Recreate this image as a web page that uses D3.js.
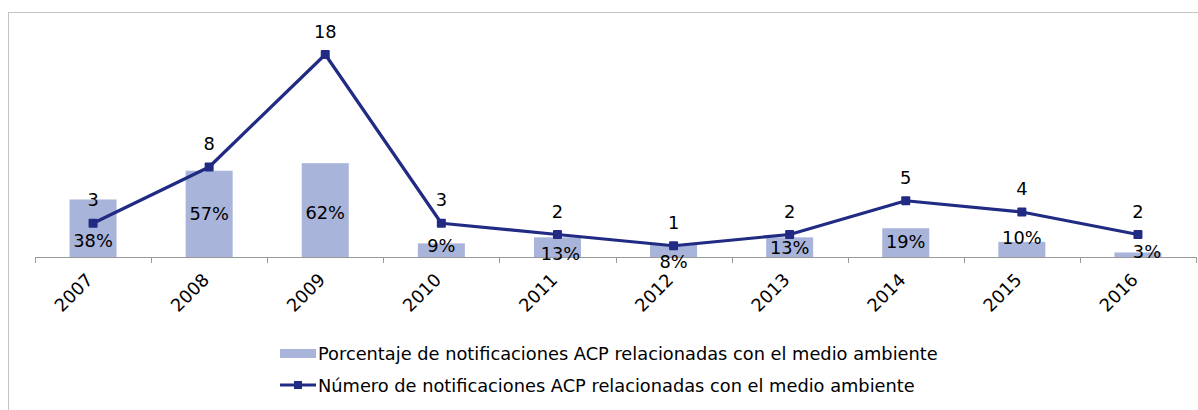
<!DOCTYPE html>
<html>
<head>
<meta charset="utf-8">
<script src="https://cdn.jsdelivr.net/npm/d3@7"></script>
<style>
  body { margin: 0; background: #fff; }
  text { font-family: "DejaVu Sans", Verdana, sans-serif; fill: #000; }
</style>
</head>
<body>
<script>
(function(){

// data
var years = ["2007","2008","2009","2010","2011","2012","2013","2014","2015","2016"];
var percentValues = [38, 57, 62, 9, 13, 8, 13, 19, 10, 3];
var countValues = [3, 8, 18, 3, 2, 1, 2, 5, 4, 2];
var legendLabels = [
    "Porcentaje de notificaciones ACP relacionadas con el medio ambiente",
    "Número de notificaciones ACP relacionadas con el medio ambiente"
];

var barColor = "#a9b4da",
    lineColor = "#212b83",
    fontSize = "17.8px";

var width = 1198,
    height = 410,
    axisLeft = 35,
    axisRight = 1196,
    baseY = 257;

var svg = d3.select("body")
    .append("svg")
    .attr("width", width)
    .attr("height", height);

//outer frame of the chart
svg.append("rect")
    .attr("x", 8.5)
    .attr("y", 12.5)
    .attr("width", 1300)
    .attr("height", 500)
    .style("fill", "none")
    .style("stroke", "#c4c4c4")
    .style("stroke-width", 1);

var x = d3.scaleBand()
    .domain(years)
    .range([axisLeft, axisRight])
    .padding(0);

var yCount = d3.scaleLinear()
    .domain([0, 20])
    .range([baseY, baseY - 225]);

var yPct = d3.scaleLinear()
    .domain([0, 150])
    .range([baseY, baseY - 227]);

var barW = x.bandwidth() * 0.405;

//bars
svg.selectAll(".bars")
    .data(percentValues)
    .enter()
    .append("rect")
    .attr("class", "bars")
    .attr("x", function(d, i){ return x(years[i]) + x.bandwidth() / 2 - barW / 2; })
    .attr("y", function(d){ return yPct(d); })
    .attr("width", barW)
    .attr("height", function(d){ return baseY - yPct(d); })
    .style("fill", barColor);

//category axis
var xAxis = d3.axisBottom(x)
    .tickSize(0)
    .tickFormat("");

var axis = svg.append("g")
    .attr("transform", "translate(0," + baseY + ")")
    .call(xAxis);
axis.select(".domain").attr("stroke", "#9a9a9a");

//tick marks on the band edges
var edges = years.map(function(d){ return x(d); }).concat([axisRight]);
svg.selectAll(".tickmark")
    .data(edges)
    .enter()
    .append("line")
    .attr("x1", function(d){ return Math.round(d) + 0.5; })
    .attr("x2", function(d){ return Math.round(d) + 0.5; })
    .attr("y1", baseY)
    .attr("y2", baseY + 6)
    .style("stroke", "#9a9a9a");

//year labels
svg.selectAll(".yearLabel")
    .data(years)
    .enter()
    .append("text")
    .attr("class", "yearLabel")
    .attr("transform", function(d){
        return "translate(" + (x(d) + x.bandwidth() / 2 + 1) + "," + (baseY + 24) + ") rotate(-45)";
    })
    .attr("text-anchor", "end")
    .style("font-size", fontSize)
    .text(function(d){ return d; });

//line
var line = d3.line()
    .x(function(d, i){ return x(years[i]) + x.bandwidth() / 2; })
    .y(function(d){ return yCount(d); });

svg.append("path")
    .datum(countValues)
    .attr("d", line)
    .style("fill", "none")
    .style("stroke", lineColor)
    .style("stroke-width", 3.2)
    .style("stroke-linejoin", "round");

svg.selectAll(".marker")
    .data(countValues)
    .enter()
    .append("rect")
    .attr("class", "marker")
    .attr("x", function(d, i){ return x(years[i]) + x.bandwidth() / 2 - 4.5; })
    .attr("y", function(d){ return yCount(d) - 4.5; })
    .attr("width", 9)
    .attr("height", 9)
    .attr("rx", 1)
    .style("fill", lineColor);

//count labels
svg.selectAll(".countLabel")
    .data(countValues)
    .enter()
    .append("text")
    .attr("class", "countLabel")
    .attr("x", function(d, i){ return x(years[i]) + x.bandwidth() / 2; })
    .attr("y", function(d){ return yCount(d) - 17; })
    .attr("text-anchor", "middle")
    .style("font-size", fontSize)
    .text(function(d){ return d; });

//percentage labels, nudged like the original to dodge the line
var pctDx = [0, 0, 0, 0, 3, 0, 0, 0, 0, 9];
var pctDy = [12, 0, 2, -5, 6, 11, 0, -1, -12, -3];
svg.selectAll(".pctLabel")
    .data(percentValues)
    .enter()
    .append("text")
    .attr("class", "pctLabel")
    .attr("x", function(d, i){ return x(years[i]) + x.bandwidth() / 2 + pctDx[i]; })
    .attr("y", function(d, i){ return (yPct(d) + baseY) / 2 + pctDy[i] + 6.5; })
    .attr("text-anchor", "middle")
    .style("font-size", fontSize)
    .text(function(d){ return d + "%"; });

//legend
var legend = svg.append("g")
    .attr("class", "legend");

legend.append("rect")
    .attr("x", 280)
    .attr("y", 349)
    .attr("width", 36)
    .attr("height", 9)
    .style("fill", barColor);

legend.append("line")
    .attr("x1", 280)
    .attr("x2", 316)
    .attr("y1", 385)
    .attr("y2", 385)
    .style("stroke", lineColor)
    .style("stroke-width", 3.2);

legend.append("rect")
    .attr("x", 294)
    .attr("y", 381)
    .attr("width", 8)
    .attr("height", 8)
    .style("fill", lineColor);

legend.selectAll(".legendText")
    .data(legendLabels)
    .enter()
    .append("text")
    .attr("class", "legendText")
    .attr("x", 318)
    .attr("y", function(d, i){ return 360 + i * 32; })
    .style("font-size", fontSize)
    .text(function(d){ return d; });

})();
</script>
</body>
</html>
